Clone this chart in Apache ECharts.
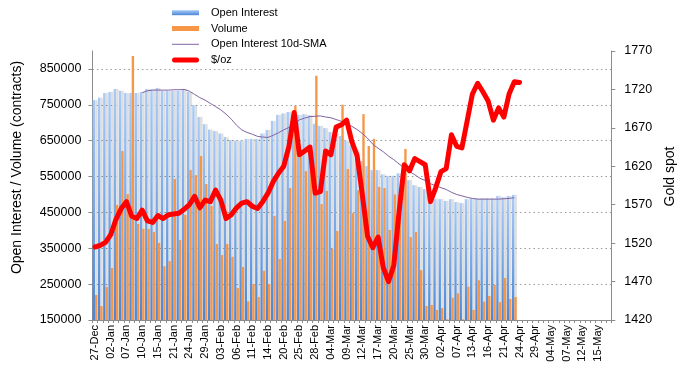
<!DOCTYPE html>
<html><head><meta charset="utf-8">
<script src="https://cdn.jsdelivr.net/npm/echarts@6/dist/echarts.min.js"></script>
<style>html,body{margin:0;padding:0;background:#fff}#c{width:685px;height:371px}</style>
</head><body><div id="c"></div>
<script>
const categories = ['27-Dec','30-Dec','31-Dec','02-Jan','03-Jan','06-Jan','07-Jan','08-Jan','09-Jan','10-Jan',
'13-Jan','14-Jan','15-Jan','16-Jan','17-Jan','21-Jan','22-Jan','23-Jan','24-Jan','27-Jan',
'28-Jan','29-Jan','30-Jan','31-Jan','03-Feb','04-Feb','05-Feb','06-Feb','07-Feb','10-Feb',
'11-Feb','12-Feb','13-Feb','14-Feb','18-Feb','19-Feb','20-Feb','21-Feb','24-Feb','25-Feb',
'26-Feb','27-Feb','28-Feb','02-Mar','03-Mar','04-Mar','05-Mar','06-Mar','09-Mar','10-Mar',
'11-Mar','12-Mar','13-Mar','16-Mar','17-Mar','18-Mar','19-Mar','20-Mar','23-Mar','24-Mar',
'25-Mar','26-Mar','27-Mar','30-Mar','31-Mar','01-Apr','02-Apr','03-Apr','06-Apr','07-Apr',
'08-Apr','09-Apr','13-Apr','14-Apr','15-Apr','16-Apr','17-Apr','20-Apr','21-Apr','22-Apr',
'23-Apr','24-Apr','27-Apr','28-Apr','29-Apr','30-Apr','01-May','04-May','05-May','06-May',
'07-May','08-May','11-May','12-May','13-May','14-May','15-May','18-May','19-May'];

const openInterest = [763000,770000,783000,786000,794000,789000,783000,783000,783000,786000,
794000,793000,797000,789000,789000,789000,789000,794000,786000,749000,
716000,696000,681000,677000,670000,660000,652000,650000,650000,655000,
655000,655000,670000,680000,705000,722000,726000,730000,729000,722000,
724000,721000,697000,691000,685000,674000,668000,663000,650000,638000,
624000,593000,579000,568000,568000,556000,552000,552000,559000,546000,
540000,526000,521000,515000,482000,488000,487000,482000,487000,479000,
476000,487000,489000,489000,489000,489000,489000,496000,492000,496000,
499000];

const volume = [220000,189000,242000,295000,471000,621000,501000,886000,418000,404000,
404000,395000,365000,300000,314000,543000,373000,443000,568000,554000,
607000,529000,468000,362000,331000,362000,326000,239000,298000,202000,
250000,214000,287000,250000,440000,320000,426000,518000,747000,610000,
565000,565000,831000,473000,510000,348000,398000,750000,571000,448000,
512000,724000,635000,655000,521000,518000,401000,500000,470000,627000,
381000,395000,289000,189000,192000,178000,183000,152000,212000,224000,
152000,243000,178000,261000,201000,217000,248000,200000,267000,209000,
214000];

const oiSma10 = [null,null,null,null,null,null,null,null,null,784000,
789000,791000,791000,791000,791000,792000,792000,793000,788000,779000,
770000,763000,754000,745000,736000,724000,710000,693000,680000,673000,
668000,662000,660000,659000,665000,672000,680000,687000,698000,708000,
713000,717000,718000,719000,716000,714000,709000,704000,697000,690000,
681000,670000,657000,640000,629000,619000,607000,597000,585000,575000,
564000,555000,545000,539000,530000,524000,519000,514000,506000,500000,
496000,492000,489000,487000,487000,487000,487000,487000,488000,489000,
491000];

const goldSpot = [1515,1517,1521,1531,1551,1565,1574,1555,1552,1563,
1549,1547,1556,1552,1557,1558,1559,1564,1570,1581,
1566,1576,1574,1589,1576,1552,1557,1566,1572,1574,
1568,1565,1574,1585,1600,1611,1620,1646,1690,1635,
1640,1645,1585,1587,1640,1635,1671,1674,1680,1652,
1634,1583,1529,1514,1528,1488,1470,1491,1560,1622,
1614,1630,1626,1622,1574,1592,1613,1617,1661,1646,
1644,1679,1714,1728,1717,1705,1680,1696,1684,1714,
1730,1729];

const leftAxis = {min: 150000, max: 900000, step: 100000};
const rightAxis = {min: 1420, max: 1770, step: 50};

const FONT = "'Liberation Sans', Arial, sans-serif";
const chart = echarts.init(document.getElementById('c'), null, {renderer: 'canvas'});
const axisGray = '#8c8c8c';
const plain = function (v) { return String(v); };

chart.setOption({
  animation: false,
  backgroundColor: '#fff',
  textStyle: {fontFamily: FONT},
  grid: {left: 92.4, right: 69.3, top: 51, bottom: 51, containLabel: false},
  legend: {
    orient: 'vertical', left: 172, top: 4.8, itemGap: 0, padding: 0,
    itemWidth: 27, itemHeight: 5,
    textStyle: {fontFamily: FONT, fontSize: 11, color: '#000', lineHeight: 15.8, padding: [0, 0, 0, 7]},
    data: [
      {name: 'Open Interest', icon: 'rect'},
      {name: 'Volume', icon: 'rect'},
      {name: 'Open Interest 10d-SMA', icon: 'path://M0,0H27V1H0Z'},
      {name: '$/oz', icon: 'path://M2.5,0H24.5A2.5,2.5,0,0,1,24.5,5H2.5A2.5,2.5,0,0,1,2.5,0Z'}
    ]
  },
  xAxis: {
    type: 'category', data: categories, boundaryGap: true,
    axisLine: {lineStyle: {color: axisGray, width: 1}},
    axisTick: {show: true, interval: 0, length: 3, lineStyle: {color: axisGray}},
    axisLabel: {interval: 2, rotate: 90, fontSize: 11, color: '#000', margin: 5, fontFamily: FONT}
  },
  yAxis: [
    {
      type: 'value', position: 'left',
      min: leftAxis.min, max: leftAxis.max, interval: leftAxis.step,
      name: 'Open Interest / Volume (contracts)', nameLocation: 'middle', nameGap: 68,
      nameTextStyle: {fontSize: 14, color: '#000', fontFamily: FONT, padding: [0, 0, 0, 36]},
      axisLine: {show: true, lineStyle: {color: axisGray}},
      axisTick: {show: true, length: 4, lineStyle: {color: axisGray}},
      axisLabel: {fontSize: 12.5, color: '#000', margin: 11, showMaxLabel: false, fontFamily: FONT, formatter: plain},
      splitLine: {show: true, showMinLine: false, showMaxLine: false,
        lineStyle: {color: '#9a9a9a', type: [1.5, 3], width: 1}}
    },
    {
      type: 'value', position: 'right',
      min: rightAxis.min, max: rightAxis.max, interval: rightAxis.step,
      name: 'Gold spot', nameLocation: 'middle', nameGap: 47, nameRotate: 90,
      nameTextStyle: {fontSize: 14, color: '#000', fontFamily: FONT, padding: [0, 0, 0, 18]},
      axisLine: {show: true, lineStyle: {color: axisGray}},
      axisTick: {show: true, length: 4, lineStyle: {color: axisGray}},
      axisLabel: {fontSize: 12.5, color: '#000', margin: 13, fontFamily: FONT, formatter: plain},
      splitLine: {show: false}
    }
  ],
  series: [
    {
      name: 'Open Interest', type: 'bar', yAxisIndex: 0, data: openInterest,
      barGap: '0%', barCategoryGap: '10%',
      itemStyle: {
        color: new echarts.graphic.LinearGradient(0, 0, 0, 1, [
          {offset: 0, color: '#a9cbf7'}, {offset: 1, color: '#4a86d6'}
        ]),
        shadowColor: 'rgba(0,0,0,0.14)', shadowOffsetX: 2.5, shadowOffsetY: 0, shadowBlur: 1
      }
    },
    {
      name: 'Volume', type: 'bar', yAxisIndex: 0, data: volume,
      itemStyle: {color: '#f79646'}
    },
    {
      name: 'Open Interest 10d-SMA', type: 'line', yAxisIndex: 0, data: oiSma10,
      showSymbol: false, symbol: 'none',
      lineStyle: {color: '#8064a2', width: 1},
      itemStyle: {color: '#8064a2'}
    },
    {
      name: '$/oz', type: 'line', yAxisIndex: 1, data: goldSpot,
      showSymbol: false, symbol: 'none', z: 5,
      lineStyle: {color: '#ff0000', width: 5, cap: 'round', join: 'round'},
      itemStyle: {color: '#ff0000'}
    }
  ]
});
</script></body></html>
